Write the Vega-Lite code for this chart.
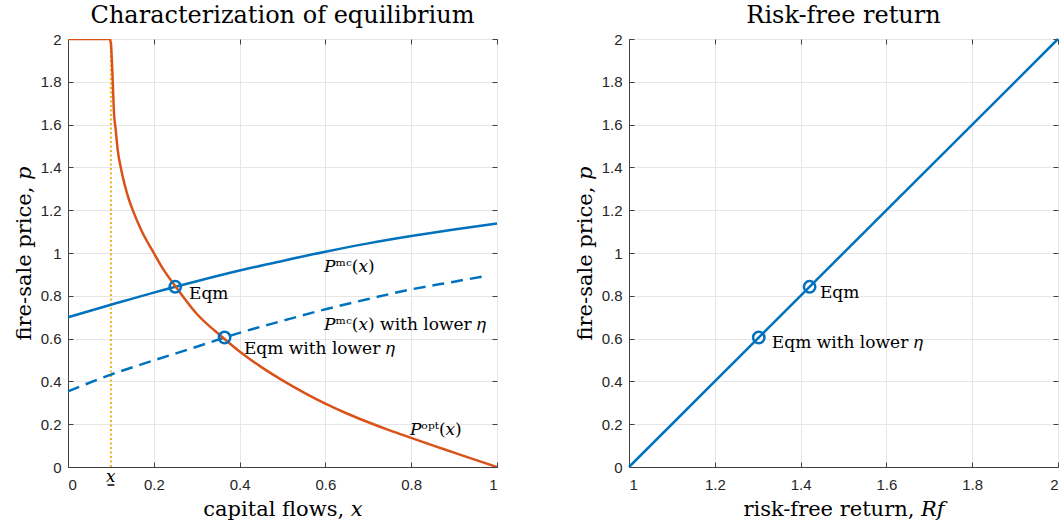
{
  "$schema": "https://vega.github.io/schema/vega-lite/v6.json",
  "background": "white",
  "padding": {"left": 12, "top": 3, "right": 4, "bottom": 4},
  "spacing": 70,
  "datasets": {
    "popt": [
      {"x": 0, "p": 2}, {"x": 0.05, "p": 2}, {"x": 0.097, "p": 2}, {"x": 0.1, "p": 1.98},
      {"x": 0.102, "p": 1.91}, {"x": 0.1036, "p": 1.84}, {"x": 0.105, "p": 1.76}, {"x": 0.107, "p": 1.66},
      {"x": 0.111, "p": 1.58}, {"x": 0.116, "p": 1.48}, {"x": 0.123, "p": 1.40}, {"x": 0.132, "p": 1.32},
      {"x": 0.142, "p": 1.25}, {"x": 0.153, "p": 1.19}, {"x": 0.17, "p": 1.11}, {"x": 0.2, "p": 1.0},
      {"x": 0.225, "p": 0.915}, {"x": 0.252, "p": 0.84}, {"x": 0.3, "p": 0.716}, {"x": 0.362, "p": 0.603},
      {"x": 0.4, "p": 0.54}, {"x": 0.45, "p": 0.468}, {"x": 0.5, "p": 0.405}, {"x": 0.55, "p": 0.348},
      {"x": 0.6, "p": 0.296}, {"x": 0.65, "p": 0.25}, {"x": 0.7, "p": 0.209}, {"x": 0.75, "p": 0.171},
      {"x": 0.8, "p": 0.136}, {"x": 0.85, "p": 0.101}, {"x": 0.9, "p": 0.067}, {"x": 0.95, "p": 0.033},
      {"x": 1.0, "p": 0.0}
    ],
    "pmc": [
      {"x": 0, "p": 0.70}, {"x": 0.1, "p": 0.758}, {"x": 0.2, "p": 0.815}, {"x": 0.3, "p": 0.868},
      {"x": 0.4, "p": 0.918}, {"x": 0.5, "p": 0.963}, {"x": 0.6, "p": 1.006}, {"x": 0.7, "p": 1.045},
      {"x": 0.8, "p": 1.079}, {"x": 0.9, "p": 1.11}, {"x": 1.0, "p": 1.138}
    ],
    "pmcLow": [
      {"x": 0, "p": 0.353}, {"x": 0.1, "p": 0.432}, {"x": 0.2, "p": 0.498}, {"x": 0.3, "p": 0.562},
      {"x": 0.4, "p": 0.627}, {"x": 0.5, "p": 0.683}, {"x": 0.6, "p": 0.737}, {"x": 0.7, "p": 0.785},
      {"x": 0.8, "p": 0.83}, {"x": 0.9, "p": 0.866}, {"x": 0.97, "p": 0.891}
    ],
    "xbar": [{"x": 0.1, "p": 0}, {"x": 0.1, "p": 2}],
    "eqm": [{"x": 0.25, "p": 0.842}, {"x": 0.365, "p": 0.605}],
    "labelsLeft": [
      {"x": 0.597, "p": 0.936, "label": "𝑃ᵐᶜ(𝑥)"},
      {"x": 0.597, "p": 0.665, "label": "𝑃ᵐᶜ(𝑥) with lower 𝜂"},
      {"x": 0.282, "p": 0.81, "label": "Eqm"},
      {"x": 0.41, "p": 0.553, "label": "Eqm with lower 𝜂"},
      {"x": 0.797, "p": 0.174, "label": "𝑃ᵒᵖᵗ(𝑥)"}
    ],
    "xbarLabel": [{"x": 0.1, "p": 0, "label": "𝑥"}],
    "xbarUnder": [{"x": 0.092, "x2": 0.108, "p": 0}],
    "rf": [{"rf": 1, "p": 0}, {"rf": 2, "p": 2}],
    "eqmRf": [{"rf": 1.421, "p": 0.842}, {"rf": 1.3025, "p": 0.605}],
    "labelsRight": [
      {"rf": 1.445, "p": 0.815, "label": "Eqm"},
      {"rf": 1.333, "p": 0.58, "label": "Eqm with lower 𝜂"}
    ]
  },
  "hconcat": [
    {
      "width": 429,
      "height": 428,
      "title": "Characterization of equilibrium",
      "layer": [
        {
          "encoding": {
            "x": {"field": "x", "type": "quantitative", "scale": {"domain": [0, 1], "nice": false},
                  "axis": {"values": [0, 0.2, 0.4, 0.6, 0.8, 1], "format": "~g", "title": "capital flows, 𝑥", "labelPadding": 15}},
            "y": {"field": "p", "type": "quantitative", "scale": {"domain": [0, 2], "nice": false},
                  "axis": {"values": [0, 0.2, 0.4, 0.6, 0.8, 1, 1.2, 1.4, 1.6, 1.8, 2], "format": "~g", "title": "fire-sale price, 𝑝"}}
          },
          "layer": [
            {"data": {"name": "xbar"}, "mark": {"type": "line", "color": "#EDB120", "strokeWidth": 2, "strokeDash": [2, 2.5]}},
            {"data": {"name": "pmc"}, "mark": {"type": "line", "color": "#0072BD", "strokeWidth": 2.5, "interpolate": "monotone"}},
            {"data": {"name": "pmcLow"}, "mark": {"type": "line", "color": "#0072BD", "strokeWidth": 2.5, "strokeDash": [12, 7], "interpolate": "monotone"}},
            {"data": {"name": "popt"}, "mark": {"type": "line", "color": "#D95319", "strokeWidth": 2.5, "interpolate": "monotone", "clip": true}},
            {"data": {"name": "eqm"}, "mark": {"type": "point", "shape": "circle", "size": 130, "filled": false, "color": "#0072BD", "strokeWidth": 2.5, "opacity": 1}},
            {"data": {"name": "labelsLeft"}, "mark": {"type": "text", "align": "left", "baseline": "middle", "font": "DejaVu Serif", "fontSize": 17, "color": "black"},
             "encoding": {"text": {"field": "label"}}},
            {"data": {"name": "xbarLabel"}, "mark": {"type": "text", "align": "center", "baseline": "middle", "dy": 10, "font": "DejaVu Serif", "fontSize": 17, "color": "black"},
             "encoding": {"text": {"field": "label"}}},
            {"data": {"name": "xbarUnder"}, "mark": {"type": "rule", "color": "black", "strokeWidth": 1.5, "yOffset": 18},
             "encoding": {"x2": {"field": "x2"}}}
          ]
        },
        {
          "data": {"name": "xbar"},
          "mark": {"type": "point", "opacity": 0},
          "encoding": {
            "x": {"field": "x", "type": "quantitative",
                  "axis": {"orient": "top", "values": [0, 0.2, 0.4, 0.6, 0.8, 1], "labels": false, "title": null, "grid": false, "domain": false}},
            "y": {"field": "p", "type": "quantitative",
                  "axis": {"orient": "right", "values": [0, 0.2, 0.4, 0.6, 0.8, 1, 1.2, 1.4, 1.6, 1.8, 2], "labels": false, "title": null, "grid": false, "domain": false}}
          }
        }
      ],
      "resolve": {"axis": {"x": "independent", "y": "independent"}}
    },
    {
      "width": 429,
      "height": 428,
      "title": "Risk-free return",
      "layer": [
        {
          "encoding": {
            "x": {"field": "rf", "type": "quantitative", "scale": {"domain": [1, 2], "nice": false, "zero": false},
                  "axis": {"values": [1, 1.2, 1.4, 1.6, 1.8, 2], "format": "~g", "title": "risk-free return, 𝑅𝑓", "labelPadding": 15}},
            "y": {"field": "p", "type": "quantitative", "scale": {"domain": [0, 2], "nice": false},
                  "axis": {"values": [0, 0.2, 0.4, 0.6, 0.8, 1, 1.2, 1.4, 1.6, 1.8, 2], "format": "~g", "title": "fire-sale price, 𝑝"}}
          },
          "layer": [
            {"data": {"name": "rf"}, "mark": {"type": "line", "color": "#0072BD", "strokeWidth": 2.5}},
            {"data": {"name": "eqmRf"}, "mark": {"type": "point", "shape": "circle", "size": 130, "filled": false, "color": "#0072BD", "strokeWidth": 2.5, "opacity": 1}},
            {"data": {"name": "labelsRight"}, "mark": {"type": "text", "align": "left", "baseline": "middle", "font": "DejaVu Serif", "fontSize": 17, "color": "black"},
             "encoding": {"text": {"field": "label"}}}
          ]
        },
        {
          "data": {"name": "rf"},
          "mark": {"type": "point", "opacity": 0},
          "encoding": {
            "x": {"field": "rf", "type": "quantitative",
                  "axis": {"orient": "top", "values": [1, 1.2, 1.4, 1.6, 1.8, 2], "labels": false, "title": null, "grid": false, "domain": false}},
            "y": {"field": "p", "type": "quantitative",
                  "axis": {"orient": "right", "values": [0, 0.2, 0.4, 0.6, 0.8, 1, 1.2, 1.4, 1.6, 1.8, 2], "labels": false, "title": null, "grid": false, "domain": false}}
          }
        }
      ],
      "resolve": {"axis": {"x": "independent", "y": "independent"}}
    }
  ],
  "config": {
    "font": "DejaVu Serif",
    "view": {"stroke": "#404040", "strokeWidth": 1},
    "axis": {
      "labelFont": "Liberation Sans",
      "labelFontSize": 15,
      "labelColor": "#262626",
      "titleFont": "DejaVu Serif",
      "titleFontSize": 21,
      "titleFontWeight": "normal",
      "titleColor": "black",
      "gridColor": "#e6e6e6",
      "gridWidth": 1,
      "domainColor": "#404040",
      "tickColor": "#404040",
      "tickSize": -5,
      "labelPadding": 12,
      "titlePadding": 6
    },
    "title": {"font": "DejaVu Serif", "fontSize": 24, "fontWeight": "normal", "color": "black", "offset": 4}
  }
}
